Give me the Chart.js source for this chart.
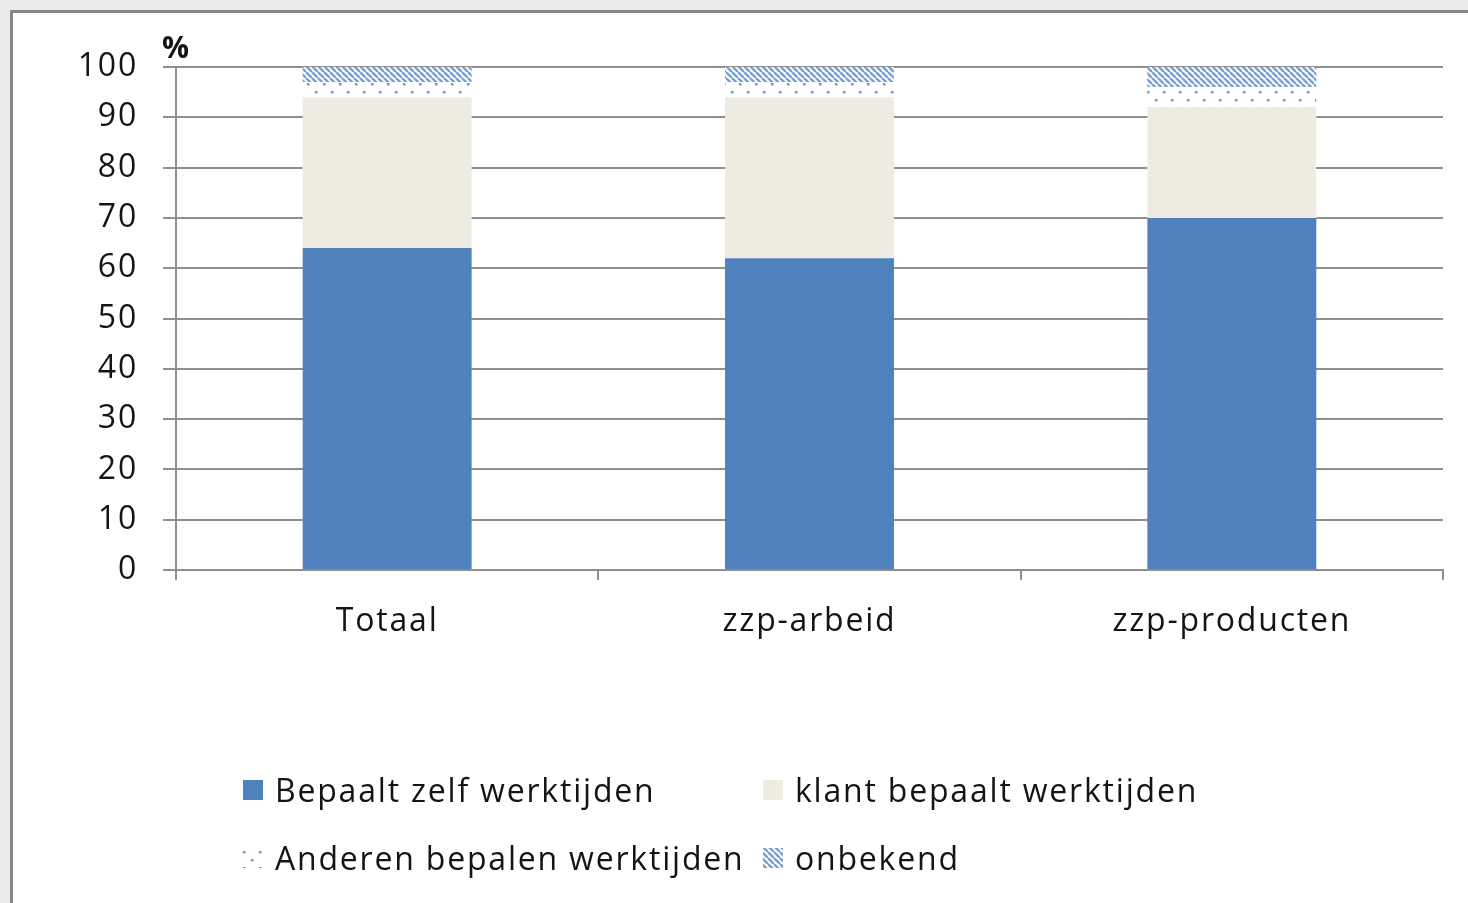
<!DOCTYPE html>
<html>
<head>
<meta charset="utf-8">
<script src="https://cdn.jsdelivr.net/npm/chart.js@4/dist/chart.umd.min.js"></script>
<style>
    html, body { margin: 0; padding: 0; background: #ebebeb; overflow: hidden; }
    #frame { position: absolute; left: 10px; top: 10px; width: 1600px; height: 1000px; background: #fff; border: 3px solid #878787; }
    #wrap { position: absolute; left: 0; top: 0; width: 1468px; height: 903px; }
</style>
</head>
<body>
<div id="frame"></div>
<div id="wrap"><canvas id="chart" width="1468" height="903"></canvas></div>
<script>
// Data
const categories = ['Totaal', 'zzp-arbeid', 'zzp-producten'];
const seriesNames = ['Bepaalt zelf werktijden', 'klant bepaalt werktijden', 'Anderen bepalen werktijden', 'onbekend'];
const zelfValues = [64, 62, 70];
const klantValues = [30, 32, 22];
const anderenValues = [3, 3, 4];
const onbekendValues = [3, 3, 4];
const yMin = 0, yMax = 100, yStep = 10;

const FONT = '"Open Sans", sans-serif';
const FONT_SIZE = 32;
const SPACING = '1.8px';
const GRID = '#8f8f8f';
const TEXT = '#141414';

// --- pattern helpers ---
const makeDots = () => {
    const c = document.createElement('canvas');
    c.width = 16; c.height = 16;
    const g = c.getContext('2d');
    g.fillStyle = '#fff';
    g.fillRect(0, 0, 16, 16);
    g.fillStyle = '#6a97d3';
    g.fillRect(3, 3, 2.5, 2.5);
    g.fillRect(11, 11, 2.5, 2.5);
    return g.createPattern(c, 'repeat');
};

const makeHatch = () => {
    const s = 6;
    const c = document.createElement('canvas');
    c.width = s; c.height = s;
    const g = c.getContext('2d');
    g.fillStyle = '#fff';
    g.fillRect(0, 0, s, s);
    g.strokeStyle = '#74a0d9';
    g.lineWidth = 2.4;
    for (let k = -1; k <= 1; k++) {
        g.beginPath();
        g.moveTo(k * s, 0);
        g.lineTo(k * s + s, s);
        g.stroke();
    }
    return g.createPattern(c, 'repeat');
};

// slightly wider text, like the original rendering
const spacing = {
    id: 'spacing',
    beforeLayout(chart) { chart.ctx.letterSpacing = SPACING; },
    beforeDraw(chart) { chart.ctx.letterSpacing = SPACING; }
};

// legend laid out as a 2x2 grid like the original
const gridLegend = {
    id: 'gridLegend',
    afterDraw(chart) {
        const ctx = chart.ctx;
        const cols = [243, 763];
        const rows = [790, 858];
        ctx.save();
        ctx.letterSpacing = SPACING;
        ctx.font = FONT_SIZE + 'px ' + FONT;
        ctx.textBaseline = 'middle';
        chart.data.datasets.forEach((ds, i) => {
            const x = cols[i % 2];
            const y = rows[Math.floor(i / 2)];
            ctx.fillStyle = ds.backgroundColor;
            ctx.fillRect(x, y - 10, 20, 20);
            ctx.fillStyle = TEXT;
            ctx.fillText(ds.label, x + 32, y + 3);
        });
        // "%" unit above the y axis
        ctx.font = 'bold 30px ' + FONT;
        ctx.textBaseline = 'alphabetic';
        ctx.fillText('%', 162, 58);
        ctx.restore();
    }
};

const datasets = [
    { label: seriesNames[0], data: zelfValues, backgroundColor: '#4f81bd' },
    { label: seriesNames[1], data: klantValues, backgroundColor: '#eeece1' },
    { label: seriesNames[2], data: anderenValues, backgroundColor: makeDots() },
    { label: seriesNames[3], data: onbekendValues, backgroundColor: makeHatch() }
].map(d => ({ ...d, borderWidth: 0, barPercentage: 0.4, categoryPercentage: 1 }));

new Chart(document.getElementById('chart'), {
    type: 'bar',
    data: { labels: categories, datasets },
    options: {
        responsive: false,
        animation: false,
        layout: { padding: { left: 0, right: 25, top: 67, bottom: 0 } },
        plugins: { legend: { display: false }, tooltip: { enabled: false } },
        scales: {
            x: {
                stacked: true,
                grid: { drawOnChartArea: false, drawTicks: true, tickLength: 10, color: GRID, lineWidth: 2 },
                border: { color: GRID, width: 2 },
                ticks: { font: { family: FONT, size: FONT_SIZE }, color: TEXT, padding: 23 },
                afterFit: (scale) => { scale.height = 333; }
            },
            y: {
                stacked: true,
                min: yMin, max: yMax,
                grid: { color: GRID, lineWidth: 2, tickLength: 13 },
                border: { color: GRID, width: 2 },
                ticks: { stepSize: yStep, font: { family: FONT, size: FONT_SIZE }, color: TEXT, padding: 25 },
                afterFit: (scale) => { scale.width = 176; }
            }
        }
    },
    plugins: [spacing, gridLegend]
});
</script>
</body>
</html>
